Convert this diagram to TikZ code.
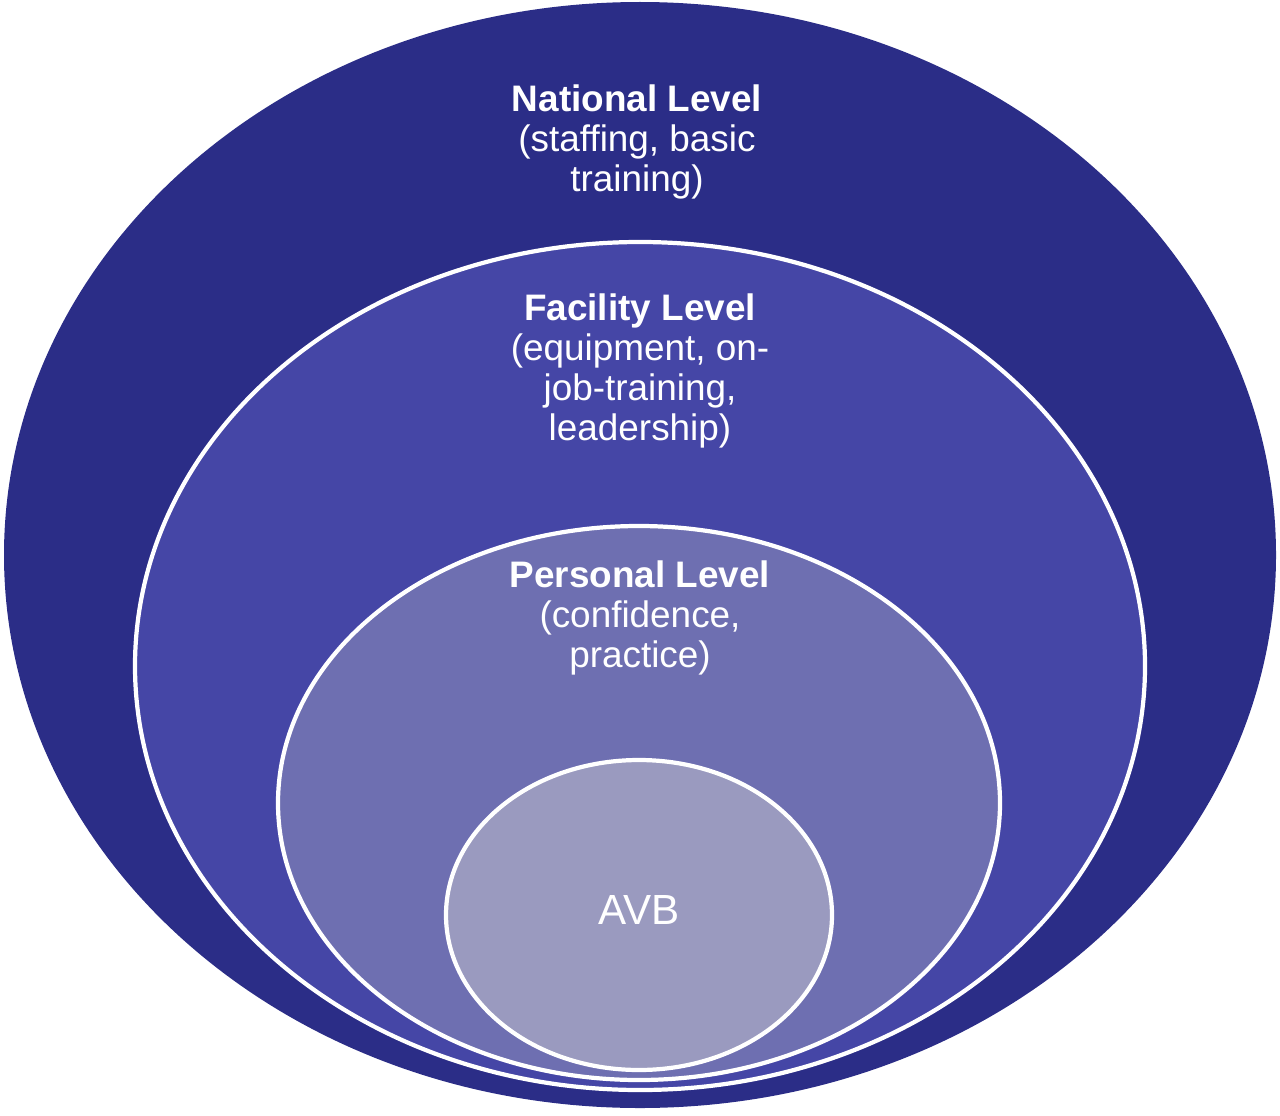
\documentclass[tikz,border=0pt]{standalone}
\usepackage{fontspec}
\setmainfont{Liberation Sans}
\usepackage{tikz}
\usetikzlibrary{shapes,positioning}
\definecolor{natcol}{HTML}{2B2D87}
\definecolor{faccol}{HTML}{4546A6}
\definecolor{percol}{HTML}{6E6FB1}
\definecolor{avbcol}{HTML}{9A9ABF}
\tikzset{
  ring/.style={draw=white, line width=2.4pt},
  lvl/.style={text=white, align=center, font=\fontsize{21}{22.7}\selectfont}
}
\begin{document}
\begin{tikzpicture}[x=0.02cm,y=-0.02cm]
\useasboundingbox (0,0) rectangle (1280,1115);

\fill[natcol] (640,555) ellipse [x radius=636, y radius=553];
\draw[ring, fill=faccol] (640,666) ellipse [x radius=505, y radius=424];
\draw[ring, fill=percol] (639,803) ellipse [x radius=361, y radius=277];
\draw[ring, fill=avbcol] (639,915) ellipse [x radius=193, y radius=155];

\node[lvl](nat) at (637,142) {\textbf{National Level}\\(staffing, basic\\training)};
\node[lvl](fac) at (640,371) {\textbf{Facility Level}\\(equipment, on-\\job-training,\\leadership)};
\node[lvl](per) at (640,618) {\textbf{Personal Level}\\(confidence,\\practice)};
\node[lvl, font=\fontsize{24}{26}\selectfont](avb) at (639,910) {AVB};
\end{tikzpicture}
\end{document}
